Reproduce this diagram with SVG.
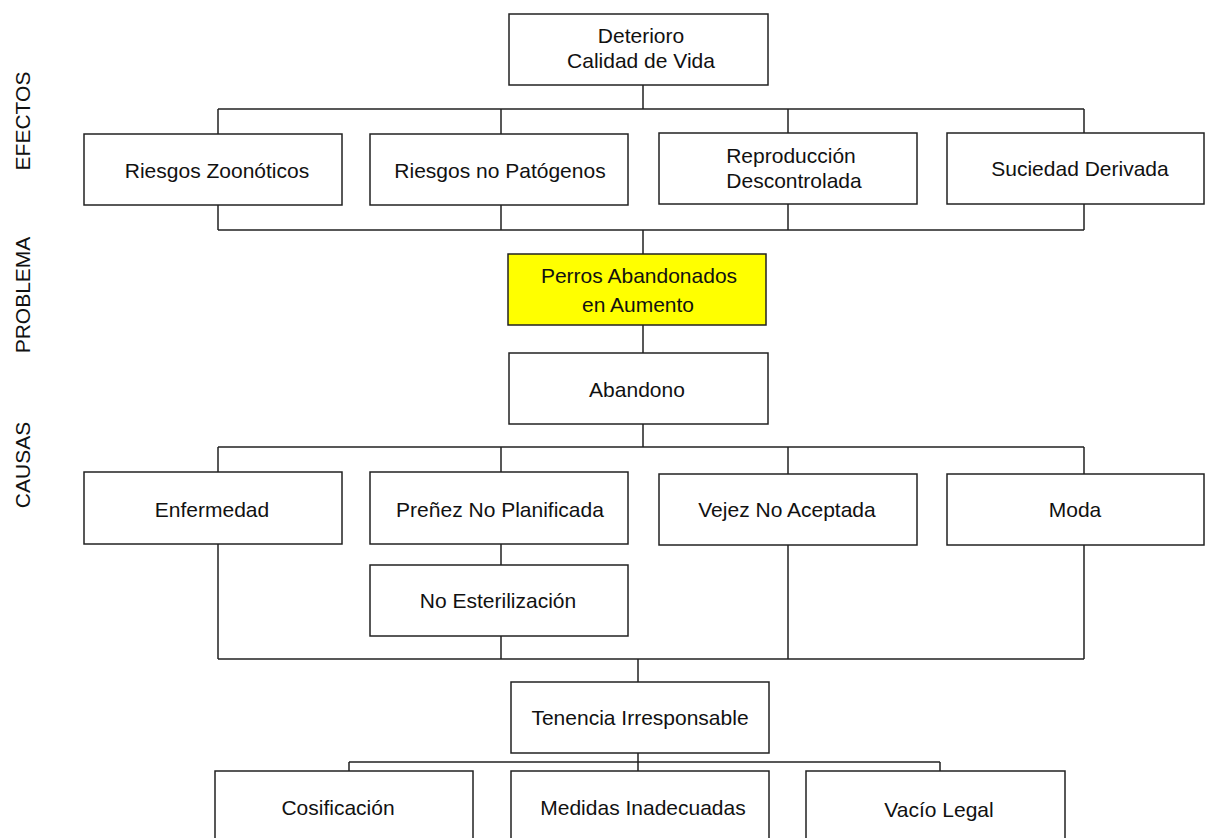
<svg xmlns="http://www.w3.org/2000/svg" width="1205" height="838" viewBox="0 0 1205 838">
<style>
rect{fill:#fff;stroke:#222;stroke-width:1.5}
.y{fill:#ffff00}
text{font-family:"Liberation Sans",Arial,sans-serif;font-size:21px;fill:#111;text-anchor:middle}
.c path{fill:none;stroke:#222;stroke-width:1.5}
</style>
<rect x="0" y="0" width="1205" height="838" style="stroke:none"/>
<g id="labels">
<text transform="translate(30,121) rotate(-90)">EFECTOS</text>
<text transform="translate(30,295) rotate(-90)">PROBLEMA</text>
<text transform="translate(30,465) rotate(-90)">CAUSAS</text>
</g>
<g class="c" id="connectors">
<path d="M643 85V109M218 109H1084M218 109V134M501 109V134M788 109V133M1084 109V133"/>
<path d="M218 205V230M501 205V230M788 204V230M1084 204V230M218 230H1084M643 230V254"/>
<path d="M643 325V353M643 424V447M218 447H1084M218 447V472M501 447V472M788 447V474M1084 447V474"/>
<path d="M501 544V565M501 636V659M218 544V659M788 545V659M1084 545V659M218 659H1084M638 659V682"/>
<path d="M638 753V771M349 762H940M349 762V771M940 762V771"/>
</g>
<g id="n-deterioro"><rect x="509" y="14" width="259" height="71"/><text x="641" y="43">Deterioro</text><text x="641" y="68">Calidad de Vida</text></g>
<g id="n-zoonoticos"><rect x="84" y="134" width="258" height="71"/><text x="217" y="178">Riesgos Zoonóticos</text></g>
<g id="n-nopatogenos"><rect x="370" y="134" width="258" height="71"/><text x="500" y="178">Riesgos no Patógenos</text></g>
<g id="n-reproduccion"><rect x="659" y="133" width="258" height="71"/><text x="791" y="163">Reproducción</text><text x="794" y="188">Descontrolada</text></g>
<g id="n-suciedad"><rect x="947" y="133" width="257" height="71"/><text x="1080" y="176">Suciedad Derivada</text></g>
<g id="n-perros"><rect class="y" x="508" y="254" width="258" height="71"/><text x="639" y="283">Perros Abandonados</text><text x="638" y="312">en Aumento</text></g>
<g id="n-abandono"><rect x="509" y="353" width="259" height="71"/><text x="637" y="397">Abandono</text></g>
<g id="n-enfermedad"><rect x="84" y="472" width="258" height="72"/><text x="212" y="517">Enfermedad</text></g>
<g id="n-prenez"><rect x="370" y="472" width="258" height="72"/><text x="500" y="517">Preñez No Planificada</text></g>
<g id="n-vejez"><rect x="659" y="474" width="258" height="71"/><text x="787" y="517">Vejez No Aceptada</text></g>
<g id="n-moda"><rect x="947" y="474" width="257" height="71"/><text x="1075" y="517">Moda</text></g>
<g id="n-esterilizacion"><rect x="370" y="565" width="258" height="71"/><text x="498" y="608">No Esterilización</text></g>
<g id="n-tenencia"><rect x="511" y="682" width="258" height="71"/><text x="640" y="725">Tenencia Irresponsable</text></g>
<g id="n-cosificacion"><rect x="215" y="771" width="258" height="71"/><text x="338" y="815">Cosificación</text></g>
<g id="n-medidas"><rect x="511" y="771" width="258" height="71"/><text x="643" y="815">Medidas Inadecuadas</text></g>
<g id="n-vacio"><rect x="806" y="771" width="259" height="71"/><text x="939" y="817">Vacío Legal</text></g>
</svg>
